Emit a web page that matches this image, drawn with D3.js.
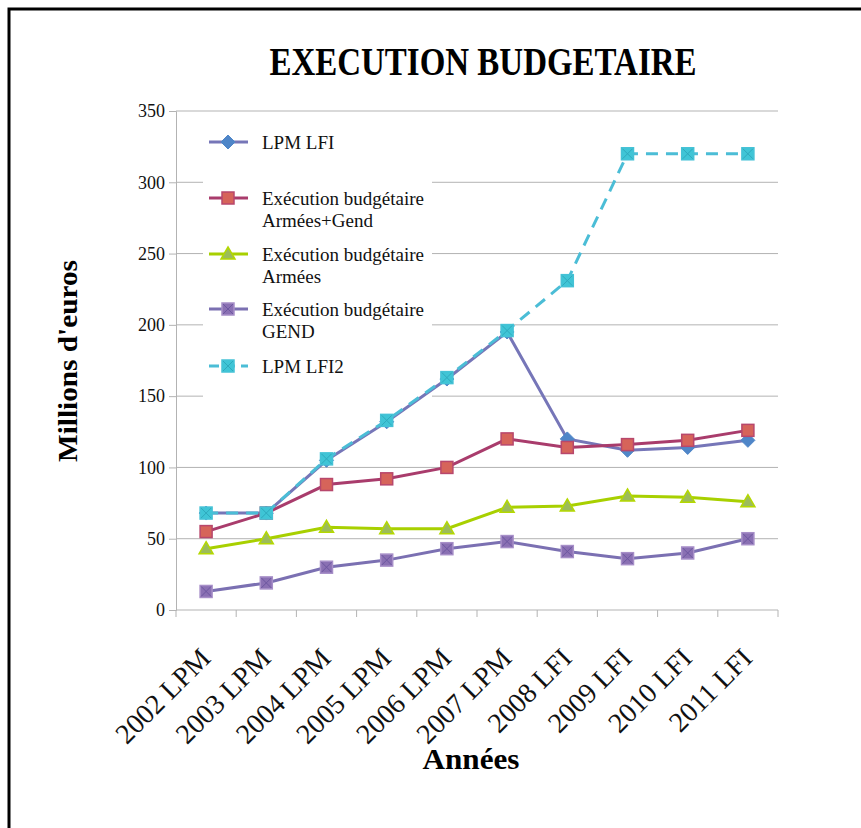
<!DOCTYPE html>
<html>

<head>
    <meta charset="utf-8">
    <title>Execution budgetaire</title>
    <script src="https://unpkg.com/d3@7.8.2/dist/d3.min.js"></script>
    <style>
        body { margin: 0; background: #fff; }
        text { font-family: "Liberation Serif", "DejaVu Serif", serif; }
    </style>
</head>

<body>
    <div id="chart"></div>

    <script>
        // categories on the x axis
        const years = ["2002 LPM", "2003 LPM", "2004 LPM", "2005 LPM", "2006 LPM",
            "2007 LPM", "2008 LFI", "2009 LFI", "2010 LFI", "2011 LFI"];

        // series values, millions d'euros
        const lpmLfi = [68, 68, 105, 132, 162, 195, 120, 112, 114, 119];
        const execArmeesGend = [55, 68, 88, 92, 100, 120, 114, 116, 119, 126];
        const execArmees = [43, 50, 58, 57, 57, 72, 73, 80, 79, 76];
        const execGend = [13, 19, 30, 35, 43, 48, 41, 36, 40, 50];
        const lpmLfi2 = [68, 68, 106, 133, 163, 196, 231, 320, 320, 320];

        const yTicks = [0, 50, 100, 150, 200, 250, 300, 350];

        const W = 861, H = 828;
        const plotL = 176, plotR = 778, plotT = 111, plotB = 610;

        const svg = d3.select("#chart")
            .append("svg")
            .attr("width", W)
            .attr("height", H);

        // frame round the chart (goes off the right and bottom edges)
        svg.append("rect")
            .attr("x", 9).attr("y", 9)
            .attr("width", 1000).attr("height", 1000)
            .attr("fill", "none")
            .attr("stroke", "#000")
            .attr("stroke-width", 3);

        const x = d3.scaleBand()
            .domain(years)
            .range([plotL, plotR]);

        const y = d3.scaleLinear()
            .domain([0, 350])
            .range([plotB, plotT]);

        const cx = d => x(d) + x.bandwidth() / 2;

        // gridlines + y axis
        const yAxis = d3.axisLeft(y)
            .tickValues(yTicks)
            .tickSize(7)
            .tickPadding(4);
        const gy = svg.append("g")
            .attr("transform", "translate(" + plotL + ",0)")
            .call(yAxis);
        gy.select(".domain").attr("stroke", "#b3b3b3");
        gy.selectAll(".tick line").attr("stroke", "#b3b3b3");
        gy.selectAll(".tick text")
            .style("font-family", "Liberation Serif")
            .style("font-size", "18px")
            .attr("fill", "#111");
        gy.selectAll(".grid")
            .data(yTicks.filter(v => v > 0))
            .enter()
            .append("line")
            .attr("x1", 0).attr("x2", plotR - plotL)
            .attr("y1", d => y(d)).attr("y2", d => y(d))
            .attr("stroke", "#b3b3b3");

        // x axis, ticks between categories
        const gx = svg.append("g")
            .attr("transform", "translate(0," + plotB + ")");
        gx.append("line")
            .attr("x1", plotL).attr("x2", plotR)
            .attr("stroke", "#b3b3b3");
        const bounds = years.map(d => x(d)).concat([plotR]);
        gx.selectAll(".xt")
            .data(bounds)
            .enter()
            .append("line")
            .attr("x1", d => d).attr("x2", d => d)
            .attr("y1", 0).attr("y2", 7)
            .attr("stroke", "#b3b3b3");
        gx.selectAll(".xl")
            .data(years)
            .enter()
            .append("text")
            .attr("transform", d => "translate(" + (cx(d) - 1) + ",43) rotate(-45)")
            .attr("text-anchor", "end")
            .attr("dy", "0.35em")
            .style("font-size", "28px")
            .attr("fill", "#111")
            .text(d => d);

        // legend background hides the gridlines behind it
        svg.append("rect")
            .attr("x", 203).attr("y", 118)
            .attr("width", 229).attr("height", 290)
            .attr("fill", "#fff");

        const series = [
            { name: ["LPM LFI"], values: lpmLfi, line: "#7676b8", fill: "#4f86c8", stroke: "#4f86c8", shape: "diamond", dash: null },
            { name: ["Exécution budgétaire", "Armées+Gend"], values: execArmeesGend, line: "#a93c6c", fill: "#d6645a", stroke: "#b8476c", shape: "square", dash: null },
            { name: ["Exécution budgétaire", "Armées"], values: execArmees, line: "#a8d000", fill: "#9cbc5a", stroke: "#b4d800", shape: "triangle", dash: null },
            { name: ["Exécution budgétaire", "GEND"], values: execGend, line: "#7b70b2", fill: "#8a70b3", stroke: "#a78fc8", shape: "xsquare", dash: null },
            { name: ["LPM LFI2"], values: lpmLfi2, line: "#4bbdd6", fill: "#3fc5d6", stroke: "#45c2d6", shape: "xsquare2", dash: "12,8" }
        ];

        function drawMarker(g, s, px, py) {
            if (s.shape === "diamond") {
                g.append("path")
                    .attr("d", `M${px},${py - 7}L${px + 7},${py}L${px},${py + 7}L${px - 7},${py}Z`)
                    .attr("fill", s.fill).attr("stroke", s.stroke);
            } else if (s.shape === "square") {
                g.append("rect")
                    .attr("x", px - 6).attr("y", py - 6)
                    .attr("width", 12).attr("height", 12)
                    .attr("fill", s.fill).attr("stroke", s.stroke).attr("stroke-width", 1.5);
            } else if (s.shape === "triangle") {
                g.append("path")
                    .attr("d", `M${px},${py - 7}L${px + 7},${py + 5}L${px - 7},${py + 5}Z`)
                    .attr("fill", s.fill).attr("stroke", s.stroke).attr("stroke-width", 1.5);
            } else {
                g.append("rect")
                    .attr("x", px - 6).attr("y", py - 6)
                    .attr("width", 12).attr("height", 12)
                    .attr("fill", s.fill).attr("stroke", s.stroke).attr("stroke-width", 1.5);
                g.append("path")
                    .attr("d", `M${px - 5},${py - 5}L${px + 5},${py + 5}M${px + 5},${py - 5}L${px - 5},${py + 5}`)
                    .attr("stroke", s.shape === "xsquare" ? "#6d57a0" : "#2fa9bd")
                    .attr("stroke-width", 1);
            }
        }

        const line = d3.line()
            .x((v, i) => cx(years[i]))
            .y(v => y(v));

        series.forEach(s => {
            const g = svg.append("g");
            g.append("path")
                .datum(s.values)
                .attr("d", line)
                .attr("fill", "none")
                .attr("stroke", s.line)
                .attr("stroke-width", 3)
                .attr("stroke-dasharray", s.dash);
            s.values.forEach((v, i) => drawMarker(g, s, cx(years[i]), y(v)));
        });

        // legend entries
        const legendY = [142, 198, 254, 309, 366];
        series.forEach((s, k) => {
            const g = svg.append("g");
            const ly = legendY[k];
            g.append("line")
                .attr("x1", 209).attr("x2", 248)
                .attr("y1", ly).attr("y2", ly)
                .attr("stroke", s.line)
                .attr("stroke-width", 3)
                .attr("stroke-dasharray", s.dash ? "10,6" : null);
            drawMarker(g, s, 228, ly);
            s.name.forEach((t, j) => {
                g.append("text")
                    .attr("x", 262)
                    .attr("y", ly + j * 22)
                    .attr("dy", "0.35em")
                    .style("font-size", "19px")
                    .attr("fill", "#111")
                    .text(t);
            });
        });

        // titles
        svg.append("text")
            .attr("x", 483).attr("y", 75)
            .attr("text-anchor", "middle")
            .attr("textLength", 427)
            .attr("lengthAdjust", "spacingAndGlyphs")
            .style("font-size", "40px")
            .style("font-weight", "bold")
            .text("EXECUTION BUDGETAIRE");

        svg.append("text")
            .attr("transform", "translate(77,361) rotate(-90)")
            .attr("text-anchor", "middle")
            .attr("textLength", 202)
            .attr("lengthAdjust", "spacingAndGlyphs")
            .style("font-size", "27px")
            .style("font-weight", "bold")
            .text("Millions d'euros");

        svg.append("text")
            .attr("x", 471).attr("y", 769)
            .attr("text-anchor", "middle")
            .attr("textLength", 97)
            .attr("lengthAdjust", "spacingAndGlyphs")
            .style("font-size", "29px")
            .style("font-weight", "bold")
            .text("Années");
    </script>
</body>

</html>
